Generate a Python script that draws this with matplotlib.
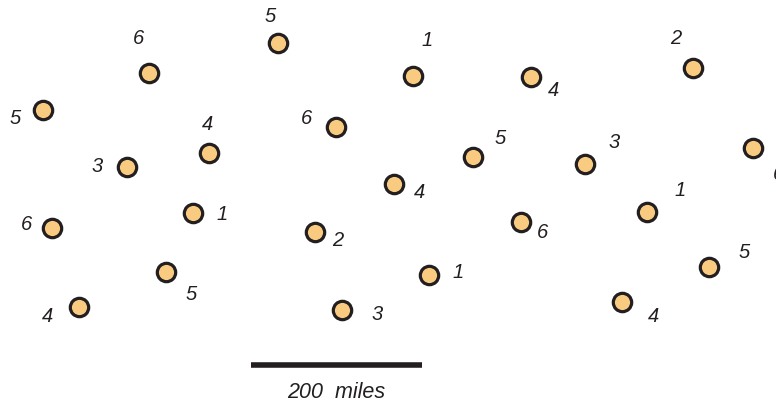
import numpy as np
import matplotlib.pyplot as plt

# map positions of the sample sites (map units, origin top-left)
site_x = [149, 278, 413, 531, 693, 43, 336, 209, 127, 473, 585, 753,
          394, 193, 52, 315, 521, 647, 166, 429, 709, 79, 342, 622]
site_y = [73, 43, 76, 77, 68, 110, 127, 153, 167, 157, 164, 148,
          184, 213, 228, 232, 222, 212, 272, 275, 267, 307, 310, 302]
site_value = ['6', '5', '1', '4', '2', '5', '6', '4', '3', '5', '3', '6',
              '4', '1', '6', '2', '6', '1', '5', '1', '5', '4', '3', '4']
label_x = [139, 270, 427, 553, 676, 15, 307, 207, 97, 500, 614, 778,
           419, 222, 27, 338, 543, 680, 191, 458, 744, 48, 377, 653]
label_y = [38, 17, 40, 90, 38, 118, 119, 125, 167, 139, 143, 174,
           193, 214, 225, 241, 233, 190, 295, 272, 252, 316, 315, 317]

scale_start = 251
scale_end = 422
scale_text = '200  miles'

fig = plt.figure(figsize=(7.76, 4.03), dpi=100)
ax = fig.add_axes([0, 0, 1, 1])
ax.set_xlim(0, 776)
ax.set_ylim(403, 0)
ax.axis('off')

ax.scatter(site_x, site_y, s=175, facecolors='#F9CB80',
           edgecolors='#231F20', linewidths=2.3, zorder=3)

for lx, ly, v in zip(label_x, label_y, site_value):
    ax.text(lx, ly, v, ha='center', va='center', fontsize=14.5,
            style='italic', family='Liberation Sans', color='#231F20')

ax.plot([scale_start, scale_end], [365, 365], color='#231F20',
        linewidth=4, solid_capstyle='butt')
ax.text((scale_start + scale_end) / 2, 392, scale_text, ha='center',
        va='center', fontsize=15.5, style='italic', family='Liberation Sans',
        color='#231F20')

plt.savefig('out.png', dpi=100)
